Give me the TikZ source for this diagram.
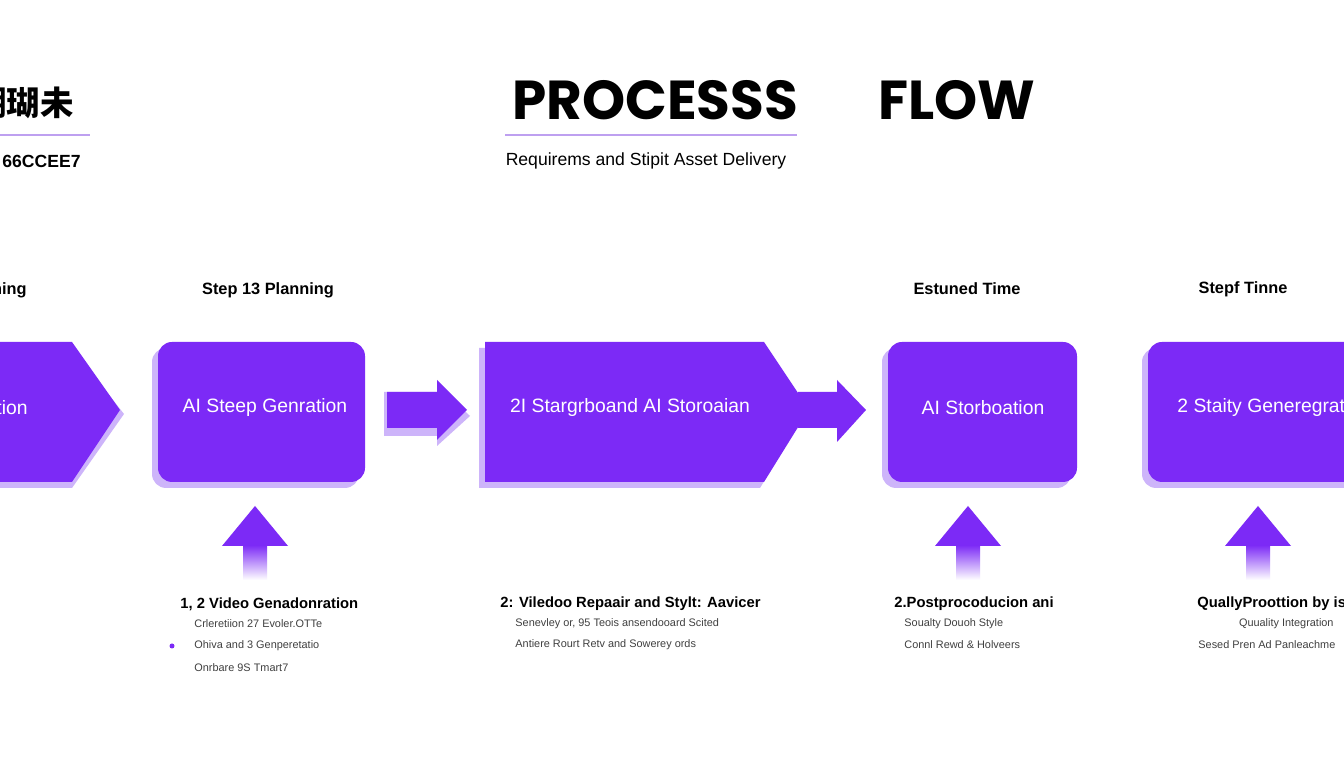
\documentclass[tikz,border=0pt]{standalone}
\usepackage{fontspec}
\setmainfont{Liberation Sans}
\newfontfamily\titlefont{Poppins}
\newfontfamily\cjk{Noto Sans CJK SC}
\usetikzlibrary{arrows.meta,positioning,calc,shapes.arrows}
\definecolor{procpurple}{RGB}{124,42,246}
\definecolor{procshade}{RGB}{205,180,250}
\definecolor{procline}{RGB}{190,160,240}
\tikzset{
  stepbox/.style={fill=procpurple,rounded corners=4pt},
  shadebox/.style={fill=procshade,rounded corners=4pt},
  boxtext/.style={text=white,font=\fontsize{5.5}{6}\selectfont},
  steplabel/.style={font=\bfseries\fontsize{4.65}{6}\selectfont},
  headtext/.style={font=\bfseries\fontsize{4.2}{5}\selectfont,anchor=west},
  smalltext/.style={font=\fontsize{3.1}{4}\selectfont,text=black!75,anchor=west}
}
\begin{document}
\begin{tikzpicture}[x=0.01cm,y=-0.01cm]
  \useasboundingbox (0,0) rectangle (1344,768);
  \fill[white] (0,0) rectangle (1344,768);

  %% heading
  \node[font=\titlefont\bfseries\fontsize{15.6}{17}\selectfont] (title1) at (655,100) {PROCESSS};
  \node[font=\titlefont\bfseries\fontsize{15.6}{17}\selectfont] (title2) at (957,100) {FLOW};
  \draw[procline,line width=0.6pt] (505,135) -- (797,135);
  \node[font=\fontsize{5}{6}\selectfont] (subtitle) at (646,161) {Requirems and Stipit Asset Delivery};
  \node[font=\cjk\bfseries\fontsize{9.5}{10}\selectfont,anchor=east] (cjktitle) at (86,103) {糊瑚未};
  \draw[procline,line width=0.6pt] (0,135) -- (90,135);
  \node[font=\bfseries\fontsize{5}{6}\selectfont,anchor=east] (code) at (93,161) {66CCEE7};

  %% step labels
  \node[steplabel,anchor=east] (lab0) at (39,290) {Planning};
  \node[steplabel] (lab1) at (268,290) {Step 13 Planning};
  \node[steplabel] (lab3) at (967,289) {Estuned Time};
  \node[steplabel] (lab4) at (1243,289) {Stepf Tinne};

  %% shadows
  \fill[procshade] (-20,348) -- (72,348) -- (124,414) -- (72,488) -- (-20,488) -- cycle;
  \fill[shadebox] (152,348) rectangle (359,488);
  \fill[procshade] (479,348) -- (760,348) -- (804,416) -- (760,488) -- (479,488) -- cycle;
  \fill[shadebox] (882,348) rectangle (1071,488);
  \fill[shadebox] (1142,348) rectangle (1360,488);

  %% boxes
  \fill[procpurple] (-20,342) -- (72,342) -- (120,410) -- (72,482) -- (-20,482) -- cycle;
  \fill[stepbox] (158,342) rectangle (365,482);
  \fill[procpurple] (485,342) -- (764,342) -- (800,396) -- (800,424) -- (764,482) -- (485,482) -- cycle;
  \fill[stepbox] (888,342) rectangle (1077,482);
  \fill[stepbox] (1148,342) rectangle (1366,482);

  \node[boxtext,anchor=east] (box0) at (40,408) {Generation};
  \node[boxtext] (box1) at (265,408) {AI Steep Genration};
  \node[boxtext] (box2) at (630,408) {2I Stargrboand AI Storoaian};
  \node[boxtext] (box3) at (983,408) {AI Storboation};
  \node[boxtext,anchor=west] (box4) at (1165,408) {2 Staity Generegration};

  %% right arrows
  \fill[procshade] (384,392) -- (437,392) -- (437,384) -- (470,416) -- (437,446) -- (437,436) -- (384,436) -- cycle;
  \fill[procpurple] (387,392) -- (437,392) -- (437,380) -- (467,410) -- (437,440) -- (437,428) -- (387,428) -- cycle;
  \fill[procpurple] (798,392) -- (837,392) -- (837,380) -- (866,410) -- (837,442) -- (837,428) -- (798,428) -- cycle;

  %% up arrows
  \foreach \ax in {255,968,1258} {
    \shade[top color=procpurple,bottom color=white] (\ax-12,545) rectangle (\ax+12,580);
    \fill[procpurple] (\ax-12,546) -- (\ax-33,546) -- (\ax,506) -- (\ax+33,546) -- (\ax+12,546) -- cycle;
  }

  %% notes
  \node[headtext] (h1) at (168,604) {1, 2 Video Genadonration};
  \node[smalltext] (t11) at (182,624) {Crleretiion 27 Evoler.OTTe};
  \fill[procpurple] (172,646) circle (2.5);
  \node[smalltext] (t12) at (182,646) {Ohiva and 3 Genperetatio};
  \node[smalltext] (t13) at (182,668) {Onrbare 9S Tmart7};

  \node[headtext] (h2) at (488,604) {2: Viledoo Repaair and Stylt: Aavicer};
  \node[smalltext] (t21) at (503,624) {Senevley or, 95 Teois ansendooard Scited};
  \node[smalltext] (t22) at (503,645) {Antiere Rourt Retv and Sowerey ords};

  \node[headtext] (h3) at (882,604) {2.Postprocoducion ani};
  \node[smalltext] (t31) at (892,624) {Soualty Douoh Style};
  \node[smalltext] (t32) at (892,645) {Connl Rewd \& Holveers};

  \node[headtext] (h4) at (1185,604) {QuallyProottion by ist};
  \node[smalltext,anchor=east] (t41) at (1346,624) {Quuality Integration};
  \node[smalltext] (t42) at (1186,645) {Sesed Pren Ad Panleachme};
\end{tikzpicture}
\end{document}
